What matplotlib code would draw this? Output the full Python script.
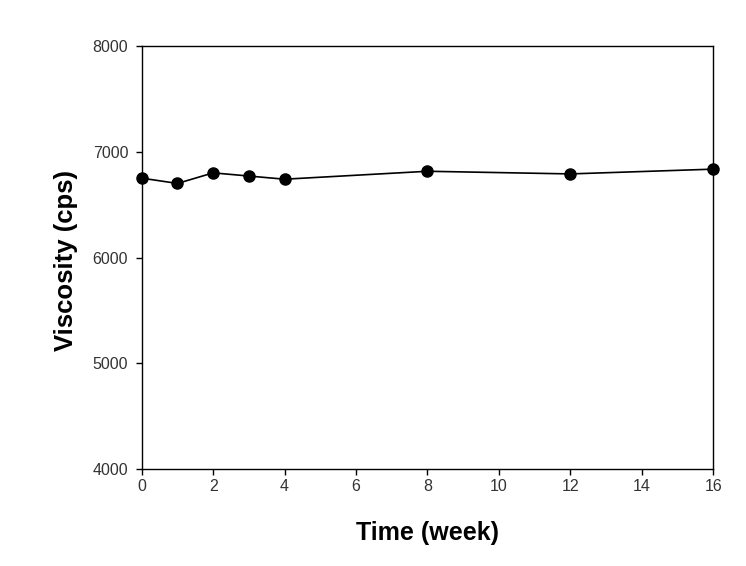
import matplotlib
matplotlib.use('Agg')
import matplotlib.pyplot as plt

plt.rcParams['font.family'] = ['Liberation Sans', 'DejaVu Sans']

weeks = [0, 1, 2, 3, 4, 8, 12, 16]
viscosity = [6750, 6700, 6800, 6770, 6740, 6815, 6790, 6835]

fig = plt.figure(figsize=(7.46, 5.66), dpi=100)
ax = fig.add_axes([0.19, 0.171, 0.766, 0.748])

ax.plot(weeks, viscosity, color='black', linewidth=1.2, marker='o',
        markersize=8, markerfacecolor='black', markeredgecolor='black',
        clip_on=False, zorder=3)

ax.set_xlim(0, 16)
ax.set_ylim(4000, 8000)
ax.set_xticks(range(0, 17, 2))
ax.set_yticks(range(4000, 8001, 1000))
ax.tick_params(direction='out', length=4.3, width=1, labelsize=11.5,
               labelcolor='#333333', top=False, right=False)
ax.tick_params(axis='x', pad=2.5)
ax.tick_params(axis='y', pad=5.5)
for s in ax.spines.values():
    s.set_linewidth(1)

ax.set_xlabel('Time (week)', fontsize=18, fontweight='bold', labelpad=20)
ax.set_ylabel('Viscosity (cps)', fontsize=18.5, fontweight='bold')
ax.yaxis.set_label_coords(-0.111, 0.494)

fig.savefig('out.png', dpi=100)
